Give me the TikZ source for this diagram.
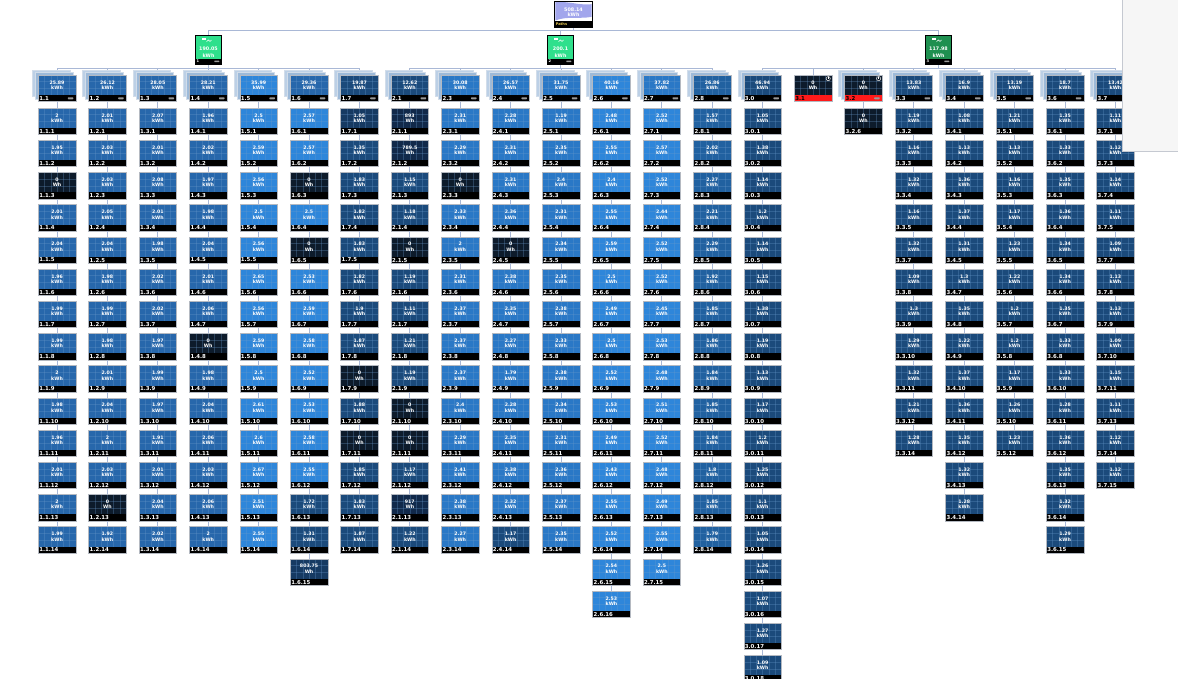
\documentclass[tikz,border=0pt]{standalone}
\usepackage{fontspec}
\setmainfont{DejaVu Sans}
\pgfdeclarelayer{bgzero}
\pgfdeclarelayer{wires}
\pgfsetlayers{bgzero,wires,main}
\definecolor{cM}{HTML}{2767AB}
\definecolor{cL}{HTML}{2E86DA}
\definecolor{cB}{HTML}{2A78C6}
\definecolor{c8}{HTML}{2161A0}
\definecolor{cD}{HTML}{1B4A7B}
\definecolor{cDD}{HTML}{163A62}
\definecolor{cW}{HTML}{11294A}
\definecolor{cZ}{HTML}{0D1B2B}
\definecolor{cRim}{HTML}{B4B9C1}
\definecolor{cGrid}{HTML}{6A9ACC}
\definecolor{cConn}{HTML}{A9B8D6}
\definecolor{cStackA}{HTML}{9DBAD9}
\definecolor{cStackB}{HTML}{BCD0E6}
\definecolor{cStackRim}{HTML}{D2DDEA}
\definecolor{cDash}{HTML}{9A9A9A}
\definecolor{cRed}{HTML}{FF1A1A}
\definecolor{cG1}{HTML}{2FE08C}
\definecolor{cG3}{HTML}{1F9050}
\definecolor{cLav}{HTML}{A2A6EC}
\definecolor{cGold}{HTML}{E8C850}
\definecolor{cPanel}{HTML}{F6F6F6}
\definecolor{cPanelRim}{HTML}{C5C9D1}
\newcommand\valfont{\fontsize{4.7}{5.4}\selectfont\bfseries}
\newcommand\labfont{\fontsize{5.4}{5.4}\selectfont\bfseries}
\newcommand\cellgrid{%
 \foreach \gx in {6.25,12.5,18.75,25,31.25}{\draw[gridln] ([xshift=\gx pt]path picture bounding box.north west) -- ([xshift=\gx pt]path picture bounding box.south west);}%
 \foreach \gy in {6.67,13.33}{\draw[gridln] ([yshift=-\gy pt]path picture bounding box.north west) -- ([yshift=-\gy pt]path picture bounding box.north east);}%
}
\tikzset{
 cellbox/.style={rectangle, anchor=north west, minimum width=37.5pt, minimum height=20pt, inner sep=0pt, outer sep=0pt, text=white, align=center, font=\valfont, path picture={\cellgrid}},
 barbox/.style={rectangle, anchor=north west, minimum width=37.5pt, minimum height=6.5pt, inner sep=0pt, outer sep=0pt, fill=black, text=white, font=\labfont, text width=35.5pt, align=left},
 cellrim/.style={draw=cRim, line width=0.6pt},
 gridln/.style={draw=cGrid, line width=0.45pt, opacity=0.3},
 conn/.style={draw=cConn, line width=0.8pt},
 stackA/.style={fill=cStackA, draw=cStackRim, line width=0.5pt},
 stackB/.style={fill=cStackB, draw=cStackRim, line width=0.5pt},
 dashc/.style={fill=cDash, rounded corners=0.6pt},
 redbar/.style={fill=cRed, text=black},
 plainbar/.style={},
 l1box/.style={rectangle, anchor=north, minimum width=25.5pt, minimum height=23.5pt, inner sep=0pt, outer sep=0pt},
 l1bar/.style={rectangle, anchor=north, minimum width=25.5pt, minimum height=5.8pt, inner sep=0pt, outer sep=0pt, fill=black, text=white, font=\fontsize{3.6}{3.6}\selectfont\bfseries, text width=24pt, align=left},
 l1txt/.style={text=white, font=\fontsize{4.8}{7}\selectfont\bfseries, align=center, inner sep=0pt},
 rootbox/.style={rectangle, anchor=north, minimum width=37.5pt, minimum height=19.5pt, inner sep=0pt, outer sep=0pt, fill=white},
 rootbar/.style={rectangle, anchor=north, minimum width=37.5pt, minimum height=6.5pt, inner sep=0pt, outer sep=0pt, fill=black, text=cGold, font=\fontsize{3.6}{3.6}\selectfont\bfseries, text width=35.5pt, align=left},
 rootxt/.style={text=white, font=\fontsize{4.8}{5.5}\selectfont\bfseries, align=center, inner sep=0pt},
 framed/.style={draw=black, line width=0.8pt},
}
% leaf: k, row, colour, value, unit, label
\newcommand\leaf[6]{%
 \pgfmathsetmacro\lx{38.3+50.4*#1}%
 \pgfmathsetmacro\ly{108+32.2*(#2-1)}%
 \node[cellbox, fill=#3] (n#1-#2) at (\lx,\ly) {#4\\#5};%
 \node[barbox] (b#1-#2) at (\lx,\ly+20) {#6};%
 \draw[cellrim] (n#1-#2.north west) rectangle (b#1-#2.south east);%
 \ifnum#2=1 \draw[conn] (tb#1.south) -- (n#1-#2.north);%
 \else\pgfmathtruncatemacro\pr{#2-1}\draw[conn] (b#1-\pr.south) -- (n#1-#2.north);\fi
}
\newcommand\leafcol[3]{%
 \foreach \sA/\vA/\uA/\cA [count=\rA] in {#3}{\leaf{#1}{\rA}{\cA}{\vA}{\uA}{#2.\sA}}}
% level-2 node: k, colour, value, unit, label, stacked(1/0), bar style
\newcommand\tnode[7]{%
 \pgfmathsetmacro\lx{38.3+50.4*#1}%
 \ifnum#6=1
  \draw[stackB] (\lx-6,70) rectangle ++(37.5,26.5);
  \draw[stackA] (\lx-3,72.5) rectangle ++(37.5,26.5);
 \fi
 \node[cellbox, fill=#2] (t#1) at (\lx,75) {#3\\#4};
 \node[barbox, #7] (tb#1) at (\lx,95) {#5};
 \draw[cellrim] (t#1.north west) rectangle (tb#1.south east);
 \ifnum#6=1 \fill[dashc] ([xshift=-8pt,yshift=1pt]tb#1.east) rectangle ([xshift=-2.5pt,yshift=-1pt]tb#1.east);\fi
}
\newcommand\lonecon[1]{%
 \fill[white] ([xshift=-6.5pt,yshift=-3.4pt]#1.north) rectangle ([xshift=-2.5pt,yshift=-4.6pt]#1.north);
 \draw[white, line width=0.5pt] ([xshift=-2pt,yshift=-6.6pt]#1.north) -- ([xshift=0pt,yshift=-5pt]#1.north) -- ([xshift=1.5pt,yshift=-6.4pt]#1.north) -- ([xshift=3pt,yshift=-5pt]#1.north);
}
\newcommand\clockicon[1]{%
 \draw[fill=cZ, draw=white!85!gray, line width=0.5pt] ([xshift=-3.6pt,yshift=-3.6pt]#1.north east) circle (2.1pt);
 \draw[white, line width=0.4pt] ([xshift=-3.6pt,yshift=-2.4pt]#1.north east) -- ([xshift=-3.6pt,yshift=-3.8pt]#1.north east);
}
\begin{document}
\begin{tikzpicture}[x=1pt,y=-1pt]
\begin{pgfonlayer}{bgzero}\fill[white] (0,0) rectangle (1178,678);\end{pgfonlayer}
\useasboundingbox (0,0) rectangle (1178,678);

% root
\node[rootbox] (root) at (573.5,1) {};
\fill[cLav] (555.3,2.2) .. controls (567,0.8) and (579,5.5) .. (591.7,4.2) -- (591.7,16.8) .. controls (580,19.2) and (567,15.8) .. (555.3,20.5) -- cycle;
\node[rootxt] (roott) at (573.5,12.4) {508.14\\kWh};
\node[rootbar] (rootb) at (root.south) {Paths};
\draw[framed] (root.north west) rectangle (rootb.south east);

% level 1
\node[l1box, fill=cG1] (g1) at (208.5,35) {};
\node[l1bar] (g1b) at (g1.south) {1};
\node[l1txt] (g1t) at (208.5,52) {190.05\\kWh};
\lonecon{g1}
\fill[dashc] ([xshift=-7pt,yshift=0.8pt]g1b.east) rectangle ([xshift=-2pt,yshift=-0.8pt]g1b.east);
\draw[framed] (g1.north west) rectangle (g1b.south east);

\node[l1box, fill=cG1] (g2) at (560.5,35) {};
\node[l1bar] (g2b) at (g2.south) {2};
\node[l1txt] (g2t) at (560.5,52) {200.1\\kWh};
\lonecon{g2}
\fill[dashc] ([xshift=-7pt,yshift=0.8pt]g2b.east) rectangle ([xshift=-2pt,yshift=-0.8pt]g2b.east);
\draw[framed] (g2.north west) rectangle (g2b.south east);

\node[l1box, fill=cG3] (g3) at (938.5,35) {};
\node[l1bar] (g3b) at (g3.south) {3};
\node[l1txt] (g3t) at (938.5,52) {117.98\\kWh};
\lonecon{g3}
\fill[dashc] ([xshift=-7pt,yshift=0.8pt]g3b.east) rectangle ([xshift=-2pt,yshift=-0.8pt]g3b.east);
\draw[framed] (g3.north west) rectangle (g3b.south east);

% level 2
\tnode{0}{cM}{25.89}{kWh}{1.1}{1}{plainbar}
\tnode{1}{cM}{26.12}{kWh}{1.2}{1}{plainbar}
\tnode{2}{cM}{28.05}{kWh}{1.3}{1}{plainbar}
\tnode{3}{cM}{28.21}{kWh}{1.4}{1}{plainbar}
\tnode{4}{cL}{35.99}{kWh}{1.5}{1}{plainbar}
\tnode{5}{cM}{29.36}{kWh}{1.6}{1}{plainbar}
\tnode{6}{cD}{19.87}{kWh}{1.7}{1}{plainbar}
\tnode{7}{cD}{12.62}{kWh}{2.1}{1}{plainbar}
\tnode{8}{cB}{30.08}{kWh}{2.3}{1}{plainbar}
\tnode{9}{cB}{26.57}{kWh}{2.4}{1}{plainbar}
\tnode{10}{cB}{31.75}{kWh}{2.5}{1}{plainbar}
\tnode{11}{cL}{40.16}{kWh}{2.6}{1}{plainbar}
\tnode{12}{cB}{37.82}{kWh}{2.7}{1}{plainbar}
\tnode{13}{c8}{26.86}{kWh}{2.8}{1}{plainbar}
\tnode{14}{cD}{46.94}{kWh}{3.0}{1}{plainbar}
\tnode{15}{cZ}{0}{Wh}{3.1}{0}{redbar}
\clockicon{t15}
\tnode{16}{cZ}{0}{Wh}{3.2}{1}{redbar}
\clockicon{t16}
\tnode{17}{cD}{13.83}{kWh}{3.3}{1}{plainbar}
\tnode{18}{cD}{16.9}{kWh}{3.4}{1}{plainbar}
\tnode{19}{cD}{13.19}{kWh}{3.5}{1}{plainbar}
\tnode{20}{cD}{18.7}{kWh}{3.6}{1}{plainbar}
\tnode{21}{cD}{13.42}{kWh}{3.7}{1}{plainbar}

% leaves
\leafcol{0}{1.1}{1/2/kWh/cM,2/1.95/kWh/cM,3/0/Wh/cZ,4/2.01/kWh/cM,5/2.04/kWh/cM,6/1.96/kWh/cM,7/1.99/kWh/cM,8/1.99/kWh/cM,9/2/kWh/cM,10/1.98/kWh/cM,11/1.96/kWh/cM,12/2.01/kWh/cM,13/2/kWh/cM,14/1.99/kWh/cM}
\leafcol{1}{1.2}{1/2.01/kWh/cM,2/2.03/kWh/cM,3/2.03/kWh/cM,4/2.05/kWh/cM,5/2.04/kWh/cM,6/1.98/kWh/cM,7/1.99/kWh/cM,8/1.98/kWh/cM,9/2.01/kWh/cM,10/2.04/kWh/cM,11/2/kWh/cM,12/2.03/kWh/cM,13/0/Wh/cZ,14/1.92/kWh/cM}
\leafcol{2}{1.3}{1/2.07/kWh/cM,2/2.01/kWh/cM,3/2.08/kWh/cM,4/2.01/kWh/cM,5/1.98/kWh/cM,6/2.02/kWh/cM,7/2.02/kWh/cM,8/1.97/kWh/cM,9/1.99/kWh/cM,10/1.97/kWh/cM,11/1.91/kWh/cM,12/2.01/kWh/cM,13/2.04/kWh/cM,14/2.02/kWh/cM}
\leafcol{3}{1.4}{1/1.96/kWh/cM,2/2.02/kWh/cM,3/1.97/kWh/cM,4/1.98/kWh/cM,5/2.04/kWh/cM,6/2.01/kWh/cM,7/2.06/kWh/cM,8/0/Wh/cZ,9/1.98/kWh/cM,10/2.04/kWh/cM,11/2.06/kWh/cM,12/2.03/kWh/cM,13/2.06/kWh/cM,14/2/kWh/cM}
\leafcol{4}{1.5}{1/2.5/kWh/cL,2/2.59/kWh/cL,3/2.56/kWh/cL,4/2.5/kWh/cL,5/2.56/kWh/cL,6/2.65/kWh/cL,7/2.56/kWh/cL,8/2.59/kWh/cL,9/2.5/kWh/cL,10/2.61/kWh/cL,11/2.6/kWh/cL,12/2.67/kWh/cL,13/2.51/kWh/cL,14/2.55/kWh/cL}
\leafcol{5}{1.6}{1/2.57/kWh/cL,2/2.57/kWh/cL,3/0/Wh/cZ,4/2.5/kWh/cL,5/0/Wh/cZ,6/2.53/kWh/cL,7/2.59/kWh/cL,8/2.58/kWh/cL,9/2.52/kWh/cL,10/2.53/kWh/cL,11/2.58/kWh/cL,12/2.55/kWh/cL,13/1.72/kWh/cD,14/1.31/kWh/cD,15/803.75/Wh/cDD}
\leafcol{6}{1.7}{1/1.05/kWh/cDD,2/1.35/kWh/cD,3/1.83/kWh/cD,4/1.82/kWh/cD,5/1.83/kWh/cD,6/1.82/kWh/cD,7/1.9/kWh/cD,8/1.87/kWh/cD,9/0/Wh/cZ,10/1.88/kWh/cD,11/0/Wh/cZ,12/1.85/kWh/cD,13/1.83/kWh/cD,14/1.87/kWh/cD}
\leafcol{7}{2.1}{1/893/Wh/cW,2/789.5/Wh/cW,3/1.15/kWh/cD,4/1.18/kWh/cD,5/0/Wh/cZ,6/1.19/kWh/cD,7/1.11/kWh/cD,8/1.21/kWh/cD,9/1.19/kWh/cD,10/0/Wh/cZ,11/0/Wh/cZ,12/1.17/kWh/cD,13/917/Wh/cW,14/1.22/kWh/cD}
\leafcol{8}{2.3}{1/2.31/kWh/cB,2/2.29/kWh/cB,3/0/Wh/cZ,4/2.33/kWh/cB,5/2/kWh/cB,6/2.31/kWh/cB,7/2.37/kWh/cB,8/2.37/kWh/cB,9/2.37/kWh/cB,10/2.4/kWh/cB,11/2.29/kWh/cB,12/2.41/kWh/cB,13/2.38/kWh/cB,14/2.27/kWh/cB}
\leafcol{9}{2.4}{1/2.28/kWh/cB,2/2.31/kWh/cB,3/2.31/kWh/cB,4/2.36/kWh/cB,5/0/Wh/cZ,6/2.38/kWh/cB,7/2.35/kWh/cB,8/2.27/kWh/cB,9/1.79/kWh/cB,10/2.28/kWh/cB,11/2.35/kWh/cB,12/2.38/kWh/cB,13/2.32/kWh/cB,14/1.17/kWh/cD}
\leafcol{10}{2.5}{1/1.19/kWh/cB,2/2.35/kWh/cB,3/2.4/kWh/cB,4/2.31/kWh/cB,5/2.34/kWh/cB,6/2.35/kWh/cB,7/2.38/kWh/cB,8/2.33/kWh/cB,9/2.38/kWh/cB,10/2.34/kWh/cB,11/2.31/kWh/cB,12/2.36/kWh/cB,13/2.37/kWh/cB,14/2.35/kWh/cB}
\leafcol{11}{2.6}{1/2.48/kWh/cL,2/2.55/kWh/cL,3/2.4/kWh/cL,4/2.55/kWh/cL,5/2.59/kWh/cL,6/2.5/kWh/cL,7/2.49/kWh/cL,8/2.5/kWh/cL,9/2.52/kWh/cL,10/2.53/kWh/cL,11/2.49/kWh/cL,12/2.43/kWh/cL,13/2.55/kWh/cL,14/2.52/kWh/cL,15/2.54/kWh/cL,16/2.53/kWh/cL}
\leafcol{12}{2.7}{1/2.52/kWh/cL,2/2.57/kWh/cL,3/2.52/kWh/cL,4/2.44/kWh/cL,5/2.52/kWh/cL,6/2.52/kWh/cL,7/2.45/kWh/cL,8/2.53/kWh/cL,9/2.48/kWh/cL,10/2.51/kWh/cL,11/2.52/kWh/cL,12/2.48/kWh/cL,13/2.49/kWh/cL,14/2.55/kWh/cL,15/2.5/kWh/cL}
\leafcol{13}{2.8}{1/1.57/kWh/c8,2/2.02/kWh/c8,3/2.27/kWh/c8,4/2.21/kWh/c8,5/2.29/kWh/c8,6/1.92/kWh/c8,7/1.85/kWh/c8,8/1.86/kWh/c8,9/1.84/kWh/c8,10/1.85/kWh/c8,11/1.84/kWh/c8,12/1.8/kWh/c8,13/1.85/kWh/c8,14/1.79/kWh/c8}
\leafcol{14}{3.0}{1/1.05/kWh/cD,2/1.38/kWh/cD,3/1.14/kWh/cD,4/1.2/kWh/cD,5/1.14/kWh/cD,6/1.15/kWh/cD,7/1.38/kWh/cD,8/1.19/kWh/cD,9/1.13/kWh/cD,10/1.17/kWh/cD,11/1.2/kWh/cD,12/1.25/kWh/cD,13/1.1/kWh/cD,14/1.05/kWh/cD,15/1.26/kWh/cD,16/1.07/kWh/cD,17/1.27/kWh/cD,18/1.09/kWh/cD}
\leafcol{16}{3.2}{6/0/Wh/cZ}
\leafcol{17}{3.3}{2/1.19/kWh/cD,3/1.16/kWh/cD,4/1.32/kWh/cD,5/1.16/kWh/cD,7/1.32/kWh/cD,8/1.09/kWh/cD,9/1.3/kWh/cD,10/1.29/kWh/cD,11/1.32/kWh/cD,12/1.21/kWh/cD,14/1.28/kWh/cD}
\leafcol{18}{3.4}{1/1.08/kWh/cD,2/1.13/kWh/cD,3/1.36/kWh/cD,4/1.37/kWh/cD,5/1.31/kWh/cD,7/1.3/kWh/cD,8/1.35/kWh/cD,9/1.22/kWh/cD,10/1.37/kWh/cD,11/1.36/kWh/cD,12/1.35/kWh/cD,13/1.32/kWh/cD,14/1.28/kWh/cD}
\leafcol{19}{3.5}{1/1.21/kWh/cD,2/1.13/kWh/cD,3/1.16/kWh/cD,4/1.17/kWh/cD,5/1.23/kWh/cD,6/1.22/kWh/cD,7/1.2/kWh/cD,8/1.2/kWh/cD,9/1.17/kWh/cD,10/1.26/kWh/cD,12/1.23/kWh/cD}
\leafcol{20}{3.6}{1/1.35/kWh/cD,2/1.33/kWh/cD,3/1.35/kWh/cD,4/1.36/kWh/cD,5/1.34/kWh/cD,6/1.34/kWh/cD,7/1.35/kWh/cD,8/1.33/kWh/cD,10/1.33/kWh/cD,11/1.28/kWh/cD,12/1.36/kWh/cD,13/1.35/kWh/cD,14/1.32/kWh/cD,15/1.29/kWh/cD}
\leafcol{21}{3.7}{1/1.11/kWh/cD,3/1.12/kWh/cD,4/1.14/kWh/cD,5/1.11/kWh/cD,7/1.09/kWh/cD,8/1.13/kWh/cD,9/1.13/kWh/cD,10/1.09/kWh/cD,11/1.15/kWh/cD,13/1.11/kWh/cD,14/1.12/kWh/cD,15/1.12/kWh/cD}

% bus wires
\begin{pgfonlayer}{wires}
\foreach \g in {g1,g2,g3}{\draw[conn] (rootb.south) -- ++(0,3.3) -| (\g.north);}
\foreach \k in {0,...,6}{\draw[conn] (g1b.south) -- ++(0,4.2) -| (t\k.north);}
\foreach \k in {7,...,13}{\draw[conn] (g2b.south) -- ++(0,4.2) -| (t\k.north);}
\foreach \k in {14,...,21}{\draw[conn] (g3b.south) -- ++(0,4.2) -| (t\k.north);}
\end{pgfonlayer}

% side panel
\fill[cPanel] (1122.5,-2) rectangle (1180,151.3);
\draw[cPanelRim, line width=0.8pt] (1122.5,-2) -- (1122.5,151.3) -- (1180,151.3);
\end{tikzpicture}
\end{document}
